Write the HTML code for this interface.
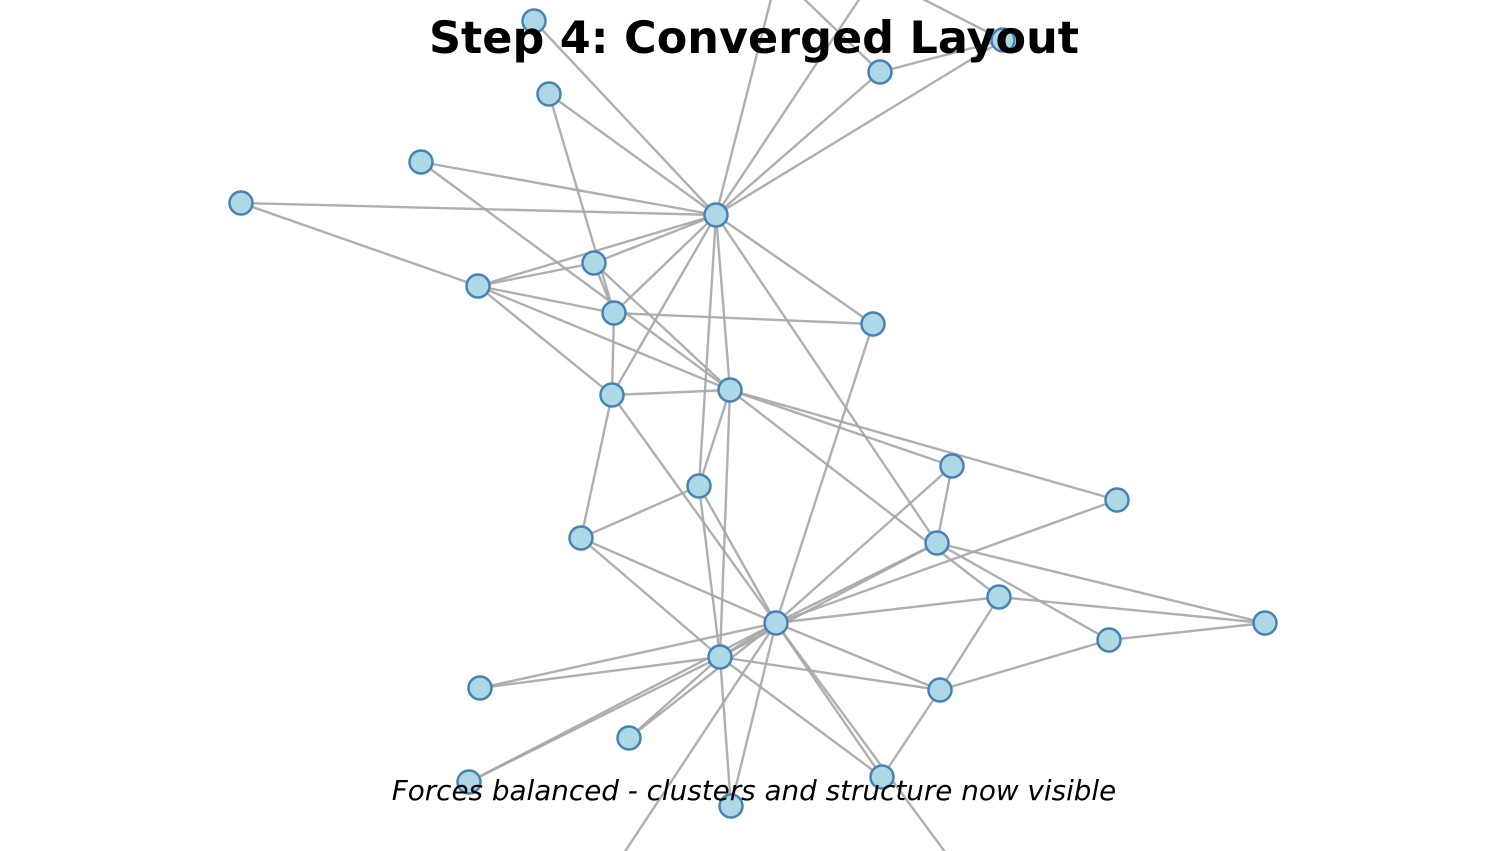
<!DOCTYPE html>
<html><head><meta charset="utf-8"><style>
html,body{margin:0;padding:0;background:#fff;}
svg{display:block;}
</style></head><body>
<svg width="1508" height="851" viewBox="0 0 1508 851" xmlns="http://www.w3.org/2000/svg">
<g stroke="#a6a6a6" stroke-width="2.4" stroke-opacity="0.9" fill="none">
<line x1="534" y1="21" x2="716" y2="215"/>
<line x1="716" y1="215" x2="772" y2="-5"/>
<line x1="716" y1="215" x2="862" y2="-5"/>
<line x1="880" y1="72" x2="800" y2="-5"/>
<line x1="1003" y1="40" x2="915" y2="-5"/>
<line x1="880" y1="72" x2="1003" y2="40"/>
<line x1="880" y1="72" x2="716" y2="215"/>
<line x1="1003" y1="40" x2="716" y2="215"/>
<line x1="549" y1="94" x2="716" y2="215"/>
<line x1="549" y1="94" x2="614" y2="313"/>
<line x1="421" y1="162" x2="716" y2="215"/>
<line x1="421" y1="162" x2="730" y2="390"/>
<line x1="241" y1="203" x2="716" y2="215"/>
<line x1="241" y1="203" x2="478" y2="286"/>
<line x1="478" y1="286" x2="594" y2="263"/>
<line x1="478" y1="286" x2="716" y2="215"/>
<line x1="478" y1="286" x2="614" y2="313"/>
<line x1="478" y1="286" x2="730" y2="390"/>
<line x1="478" y1="286" x2="612" y2="395"/>
<line x1="594" y1="263" x2="716" y2="215"/>
<line x1="594" y1="263" x2="730" y2="390"/>
<line x1="594" y1="263" x2="614" y2="313"/>
<line x1="614" y1="313" x2="716" y2="215"/>
<line x1="614" y1="313" x2="873" y2="324"/>
<line x1="614" y1="313" x2="612" y2="395"/>
<line x1="716" y1="215" x2="612" y2="395"/>
<line x1="716" y1="215" x2="730" y2="390"/>
<line x1="716" y1="215" x2="699" y2="486"/>
<line x1="716" y1="215" x2="873" y2="324"/>
<line x1="716" y1="215" x2="937" y2="543"/>
<line x1="873" y1="324" x2="776" y2="623"/>
<line x1="730" y1="390" x2="612" y2="395"/>
<line x1="730" y1="390" x2="720" y2="657"/>
<line x1="730" y1="390" x2="699" y2="486"/>
<line x1="730" y1="390" x2="952" y2="466"/>
<line x1="730" y1="390" x2="1117" y2="500"/>
<line x1="730" y1="390" x2="999" y2="597"/>
<line x1="612" y1="395" x2="581" y2="538"/>
<line x1="612" y1="395" x2="776" y2="623"/>
<line x1="952" y1="466" x2="937" y2="543"/>
<line x1="952" y1="466" x2="776" y2="623"/>
<line x1="1117" y1="500" x2="776" y2="623"/>
<line x1="699" y1="486" x2="581" y2="538"/>
<line x1="699" y1="486" x2="720" y2="657"/>
<line x1="699" y1="486" x2="776" y2="623"/>
<line x1="581" y1="538" x2="720" y2="657"/>
<line x1="581" y1="538" x2="776" y2="623"/>
<line x1="937" y1="543" x2="776" y2="623"/>
<line x1="937" y1="543" x2="720" y2="657"/>
<line x1="937" y1="543" x2="1265" y2="623"/>
<line x1="937" y1="543" x2="1109" y2="640"/>
<line x1="999" y1="597" x2="776" y2="623"/>
<line x1="999" y1="597" x2="940" y2="690"/>
<line x1="999" y1="597" x2="1265" y2="623"/>
<line x1="1265" y1="623" x2="1109" y2="640"/>
<line x1="1109" y1="640" x2="940" y2="690"/>
<line x1="776" y1="623" x2="720" y2="657"/>
<line x1="776" y1="623" x2="480" y2="688"/>
<line x1="720" y1="657" x2="480" y2="688"/>
<line x1="776" y1="623" x2="940" y2="690"/>
<line x1="776" y1="623" x2="882" y2="777"/>
<line x1="776" y1="623" x2="731" y2="806"/>
<line x1="776" y1="623" x2="469" y2="782"/>
<line x1="776" y1="623" x2="629" y2="738"/>
<line x1="720" y1="657" x2="469" y2="782"/>
<line x1="720" y1="657" x2="629" y2="738"/>
<line x1="720" y1="657" x2="940" y2="690"/>
<line x1="720" y1="657" x2="882" y2="777"/>
<line x1="720" y1="657" x2="731" y2="806"/>
<line x1="776" y1="623" x2="622" y2="856"/>
<line x1="776" y1="623" x2="948" y2="856"/>
<line x1="940" y1="690" x2="882" y2="777"/>
</g>
<g fill="#add8e6" stroke="#4682b4" stroke-width="2.5">
<circle cx="534" cy="21" r="11.5"/><circle cx="1003" cy="40" r="11.5"/><circle cx="880" cy="72" r="11.5"/>
<circle cx="549" cy="94" r="11.5"/><circle cx="421" cy="162" r="11.5"/><circle cx="241" cy="203" r="11.5"/>
<circle cx="716" cy="215" r="11.5"/><circle cx="594" cy="263" r="11.5"/><circle cx="478" cy="286" r="11.5"/>
<circle cx="614" cy="313" r="11.5"/><circle cx="873" cy="324" r="11.5"/><circle cx="730" cy="390" r="11.5"/>
<circle cx="612" cy="395" r="11.5"/><circle cx="952" cy="466" r="11.5"/><circle cx="1117" cy="500" r="11.5"/>
<circle cx="699" cy="486" r="11.5"/><circle cx="581" cy="538" r="11.5"/><circle cx="937" cy="543" r="11.5"/>
<circle cx="999" cy="597" r="11.5"/><circle cx="1265" cy="623" r="11.5"/><circle cx="776" cy="623" r="11.5"/>
<circle cx="1109" cy="640" r="11.5"/><circle cx="720" cy="657" r="11.5"/><circle cx="480" cy="688" r="11.5"/>
<circle cx="940" cy="690" r="11.5"/><circle cx="629" cy="738" r="11.5"/><circle cx="469" cy="782" r="11.5"/>
<circle cx="882" cy="777" r="11.5"/><circle cx="731" cy="806" r="11.5"/>
</g>
<text x="754" y="53" text-anchor="middle" font-family="'DejaVu Sans','Liberation Sans',sans-serif" font-weight="bold" font-size="44.5" fill="#000">Step 4: Converged Layout</text>
<text x="754" y="800" text-anchor="middle" font-family="'DejaVu Sans','Liberation Sans',sans-serif" font-style="italic" font-size="27.8" fill="#000">Forces balanced - clusters and structure now visible</text>
</svg>
</body></html>
